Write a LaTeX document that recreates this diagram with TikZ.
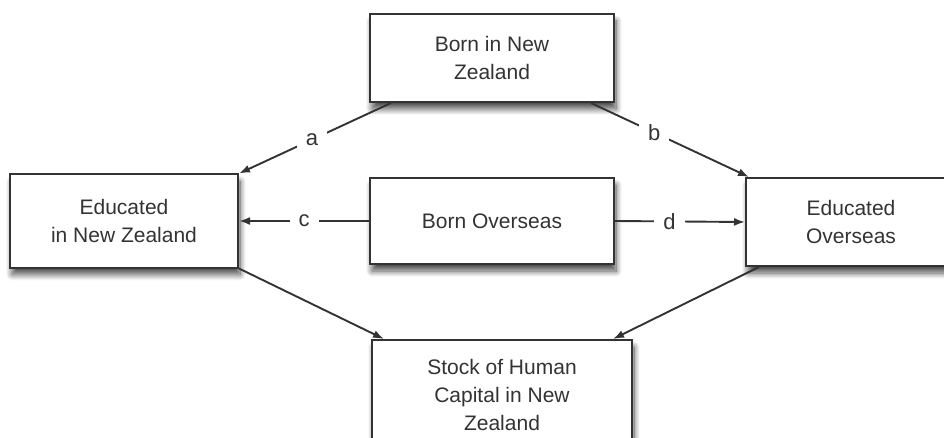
\documentclass[tikz,border=0pt]{standalone}
\usepackage{fontspec}
\setmainfont{Liberation Sans}
\usetikzlibrary{shapes,arrows,calc,positioning,arrows.meta,shadows.blur}
\definecolor{inkgray}{HTML}{333333}

\begin{document}
\begin{tikzpicture}[
    x=1pt,y=-1pt,
    >={Latex[length=11pt,width=8pt]},
    box/.style={rectangle,draw=inkgray,line width=2pt,fill=white,text=inkgray,
      align=center,font=\fontsize{21}{28}\selectfont,
      blur shadow={shadow xshift=2pt,shadow yshift=-7pt,shadow blur steps=12,shadow blur radius=6pt,shadow opacity=70}},
    flow/.style={->,draw=inkgray,line width=1.9pt},
    lab/.style={fill=white,text=inkgray,inner sep=9pt,font=\fontsize{22}{24}\selectfont}]
    \useasboundingbox (0,0) rectangle (944,438);
    \node[box,minimum width=244pt,minimum height=88pt] (BNZ) at (492,58) {Born in New\\Zealand};
    \node[box,minimum width=228pt,minimum height=93pt] (ENZ) at (124,221) {Educated\\in New Zealand};
    \node[box,minimum width=244pt,minimum height=86pt] (BOS) at (492,221) {Born Overseas};
    \node[box,minimum width=210pt,minimum height=88pt] (EOS) at (851,222) {Educated\\Overseas};
    \node[box,minimum width=260pt,minimum height=110pt] (HC) at (502,395) {Stock of Human\\Capital in New\\Zealand};

    \draw[flow] ($(BNZ.south west)+(22,0)$) -- node[lab,pos=0.52] {a} (ENZ.north east);
    \draw[flow] ($(BNZ.south east)+(-24,0)$) -- node[lab,pos=0.4] {b} ($(EOS.north west)+(4,0)$);
    \draw[flow] (BOS.west) -- node[lab] {c} (ENZ.east);
    \draw[flow] (BOS.east) -- node[lab,pos=0.42] {d} (EOS.west);
    \draw[flow] (ENZ.south east) -- ($(HC.north west)+(13,0)$);
    \draw[flow] ($(EOS.south west)+(14,0)$) -- ($(HC.north east)+(-20,0)$);
\end{tikzpicture}
\end{document}
